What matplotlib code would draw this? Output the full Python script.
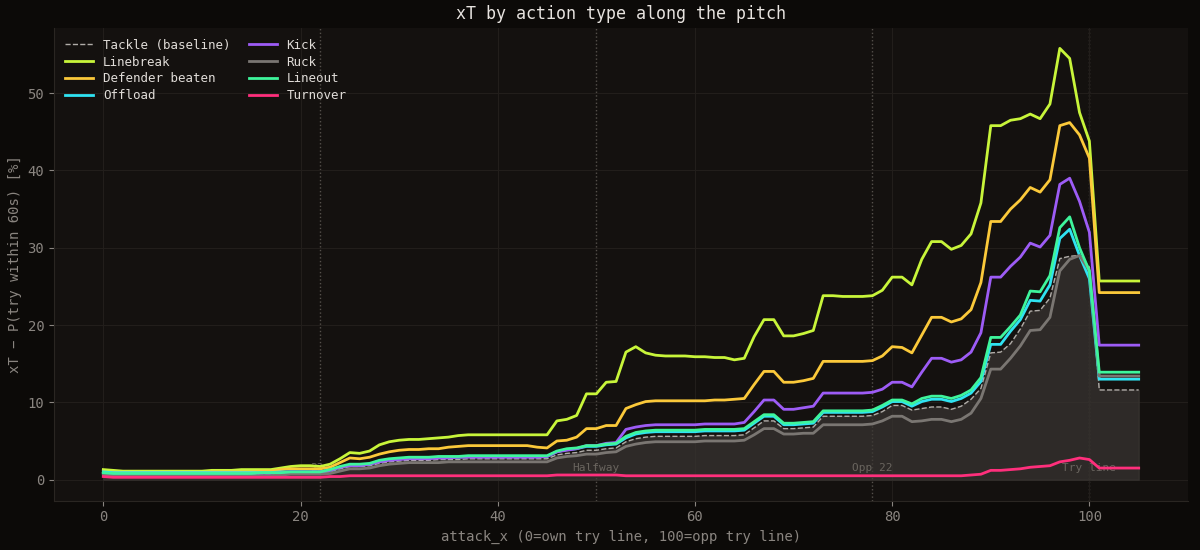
import numpy as np
import matplotlib
matplotlib.use("Agg")
import matplotlib.pyplot as plt

plt.rcParams.update({
    "font.family": "DejaVu Sans Mono",
    "axes.spines.top": False,
    "axes.spines.right": False,
})

attack_x = list(range(106))

linebreak = [1.3, 1.2, 1.1, 1.1, 1.1, 1.1, 1.1, 1.1, 1.1, 1.1,
             1.1, 1.2, 1.2, 1.2, 1.3, 1.3, 1.3, 1.3, 1.5, 1.7,
             1.8, 1.8, 1.7, 2.0, 2.7, 3.5, 3.4, 3.7, 4.5, 4.9,
             5.1, 5.2, 5.2, 5.3, 5.4, 5.5, 5.7, 5.8, 5.8, 5.8,
             5.8, 5.8, 5.8, 5.8, 5.8, 5.8, 7.6, 7.8, 8.3, 11.1,
             11.1, 12.6, 12.7, 16.5, 17.2, 16.4, 16.1, 16.0, 16.0, 16.0,
             15.9, 15.9, 15.8, 15.8, 15.5, 15.7, 18.5, 20.7, 20.7, 18.6,
             18.6, 18.9, 19.3, 23.8, 23.8, 23.7, 23.7, 23.7, 23.8, 24.5,
             26.2, 26.2, 25.2, 28.5, 30.8, 30.8, 29.8, 30.3, 31.8, 35.8,
             45.8, 45.8, 46.5, 46.7, 47.3, 46.7, 48.6, 55.8, 54.5, 47.5,
             43.8, 25.7, 25.7, 25.7, 25.7, 25.7]

defender_beaten = [1.0, 0.9, 0.9, 0.9, 0.9, 0.9, 0.9, 0.9, 0.9, 0.9,
                   0.9, 1.0, 1.0, 1.0, 1.0, 1.0, 1.1, 1.1, 1.3, 1.4,
                   1.4, 1.4, 1.4, 1.6, 2.2, 2.8, 2.7, 2.9, 3.3, 3.6,
                   3.8, 3.9, 3.9, 4.0, 4.0, 4.2, 4.3, 4.4, 4.4, 4.4,
                   4.4, 4.4, 4.4, 4.4, 4.2, 4.1, 5.0, 5.1, 5.5, 6.6,
                   6.6, 7.0, 7.0, 9.2, 9.7, 10.1, 10.2, 10.2, 10.2, 10.2,
                   10.2, 10.2, 10.3, 10.3, 10.4, 10.5, 12.3, 14.0, 14.0, 12.6,
                   12.6, 12.8, 13.1, 15.3, 15.3, 15.3, 15.3, 15.3, 15.4, 16.0,
                   17.2, 17.1, 16.4, 18.7, 21.0, 21.0, 20.4, 20.8, 22.0, 25.5,
                   33.4, 33.4, 35.0, 36.2, 37.8, 37.2, 38.8, 45.8, 46.2, 44.6,
                   41.6, 24.2, 24.2, 24.2, 24.2, 24.2]

kick = [0.8, 0.7, 0.7, 0.7, 0.7, 0.7, 0.7, 0.7, 0.7, 0.7,
        0.7, 0.7, 0.7, 0.8, 0.8, 0.8, 0.8, 0.8, 0.9, 1.0,
        1.0, 1.0, 1.0, 1.2, 1.6, 1.8, 1.8, 2.0, 2.3, 2.5,
        2.6, 2.7, 2.7, 2.7, 2.8, 2.8, 2.9, 2.9, 2.9, 2.9,
        2.9, 2.9, 2.9, 2.9, 2.9, 3.0, 3.6, 3.8, 4.0, 4.4,
        4.4, 4.7, 4.8, 6.5, 6.8, 7.0, 7.1, 7.1, 7.1, 7.1,
        7.1, 7.2, 7.2, 7.2, 7.2, 7.4, 8.8, 10.3, 10.3, 9.1,
        9.1, 9.3, 9.5, 11.2, 11.2, 11.2, 11.2, 11.2, 11.3, 11.7,
        12.6, 12.6, 12.0, 13.9, 15.7, 15.7, 15.2, 15.5, 16.5, 19.0,
        26.2, 26.2, 27.6, 28.8, 30.6, 30.1, 31.6, 38.2, 39.0, 36.0,
        32.0, 17.4, 17.4, 17.4, 17.4, 17.4]

lineout = [0.9, 0.8, 0.8, 0.8, 0.8, 0.8, 0.8, 0.8, 0.8, 0.8,
           0.8, 0.8, 0.8, 0.8, 0.8, 0.8, 0.9, 0.9, 0.9, 1.0,
           1.0, 1.0, 1.0, 1.3, 1.7, 2.0, 2.0, 2.1, 2.5, 2.7,
           2.8, 2.9, 2.9, 2.9, 3.0, 3.0, 3.0, 3.1, 3.1, 3.1,
           3.1, 3.1, 3.1, 3.1, 3.1, 3.1, 3.7, 4.0, 4.1, 4.4,
           4.4, 4.6, 4.7, 5.6, 6.1, 6.3, 6.4, 6.4, 6.4, 6.4,
           6.4, 6.5, 6.5, 6.5, 6.5, 6.6, 7.5, 8.4, 8.4, 7.3,
           7.3, 7.4, 7.5, 8.9, 8.9, 8.9, 8.9, 8.9, 9.0, 9.6,
           10.3, 10.3, 9.8, 10.5, 10.8, 10.8, 10.5, 10.9, 11.6, 13.2,
           18.4, 18.4, 19.8, 21.3, 24.4, 24.3, 26.4, 32.6, 34.0, 30.0,
           27.0, 13.9, 13.9, 13.9, 13.9, 13.9]

offload = [1.0, 0.9, 0.9, 0.9, 0.9, 0.9, 0.9, 0.9, 0.9, 0.9,
           0.9, 0.9, 0.9, 0.9, 0.9, 0.9, 0.9, 0.9, 1.0, 1.0,
           1.0, 1.0, 1.0, 1.2, 1.6, 1.9, 1.9, 2.0, 2.4, 2.6,
           2.7, 2.8, 2.8, 2.8, 2.9, 2.9, 2.9, 3.0, 3.0, 3.0,
           3.0, 3.0, 3.0, 3.0, 3.0, 3.0, 3.6, 3.9, 4.0, 4.3,
           4.3, 4.5, 4.6, 5.4, 5.9, 6.1, 6.2, 6.2, 6.2, 6.2,
           6.2, 6.3, 6.3, 6.3, 6.3, 6.4, 7.3, 8.2, 8.2, 7.1,
           7.1, 7.2, 7.3, 8.7, 8.7, 8.7, 8.7, 8.7, 8.8, 9.4,
           10.1, 10.1, 9.5, 10.1, 10.4, 10.4, 10.1, 10.5, 11.2, 12.7,
           17.5, 17.5, 19.2, 20.7, 23.2, 23.1, 25.2, 31.2, 32.4, 29.0,
           26.0, 13.0, 13.0, 13.0, 13.0, 13.0]

tackle = [0.8, 0.7, 0.7, 0.7, 0.7, 0.7, 0.7, 0.7, 0.7, 0.7,
          0.7, 0.7, 0.7, 0.7, 0.7, 0.7, 0.7, 0.7, 0.8, 0.9,
          0.9, 0.9, 0.9, 1.0, 1.4, 1.7, 1.7, 1.8, 2.1, 2.3,
          2.4, 2.5, 2.5, 2.5, 2.6, 2.6, 2.6, 2.7, 2.7, 2.7,
          2.7, 2.7, 2.7, 2.7, 2.7, 2.7, 3.2, 3.4, 3.5, 3.8,
          3.8, 4.0, 4.1, 4.9, 5.3, 5.5, 5.6, 5.6, 5.6, 5.6,
          5.6, 5.7, 5.7, 5.7, 5.7, 5.8, 6.7, 7.6, 7.6, 6.6,
          6.6, 6.7, 6.8, 8.2, 8.2, 8.2, 8.2, 8.2, 8.3, 8.8,
          9.6, 9.6, 9.0, 9.2, 9.4, 9.4, 9.1, 9.5, 10.4, 11.8,
          16.4, 16.5, 17.6, 19.5, 21.8, 21.9, 23.5, 28.6, 28.9, 29.0,
          27.5, 11.6, 11.6, 11.6, 11.6, 11.6]

ruck = [0.6, 0.5, 0.5, 0.5, 0.5, 0.5, 0.5, 0.5, 0.5, 0.5,
        0.5, 0.5, 0.5, 0.5, 0.5, 0.5, 0.5, 0.5, 0.6, 0.7,
        0.7, 0.7, 0.7, 0.8, 1.1, 1.4, 1.4, 1.5, 1.8, 2.0,
        2.1, 2.2, 2.2, 2.2, 2.2, 2.3, 2.3, 2.3, 2.3, 2.3,
        2.3, 2.3, 2.3, 2.3, 2.3, 2.3, 2.8, 3.0, 3.1, 3.3,
        3.3, 3.5, 3.6, 4.3, 4.6, 4.8, 4.9, 4.9, 4.9, 4.9,
        4.9, 5.0, 5.0, 5.0, 5.0, 5.1, 5.8, 6.6, 6.6, 5.9,
        5.9, 6.0, 6.0, 7.1, 7.1, 7.1, 7.1, 7.1, 7.2, 7.6,
        8.2, 8.2, 7.5, 7.6, 7.8, 7.8, 7.5, 7.8, 8.6, 10.5,
        14.3, 14.3, 15.7, 17.3, 19.3, 19.4, 21.0, 27.0, 28.5, 29.0,
        27.0, 13.4, 13.4, 13.4, 13.4, 13.4]

turnover = [0.4, 0.3, 0.3, 0.3, 0.3, 0.3, 0.3, 0.3, 0.3, 0.3,
            0.3, 0.3, 0.3, 0.3, 0.3, 0.3, 0.3, 0.3, 0.3, 0.3,
            0.3, 0.3, 0.3, 0.4, 0.4, 0.5, 0.5, 0.5, 0.5, 0.5,
            0.5, 0.5, 0.5, 0.5, 0.5, 0.5, 0.5, 0.5, 0.5, 0.5,
            0.5, 0.5, 0.5, 0.5, 0.5, 0.5, 0.6, 0.6, 0.6, 0.6,
            0.6, 0.6, 0.6, 0.5, 0.5, 0.5, 0.5, 0.5, 0.5, 0.5,
            0.5, 0.5, 0.5, 0.5, 0.5, 0.5, 0.5, 0.5, 0.5, 0.5,
            0.5, 0.5, 0.5, 0.5, 0.5, 0.5, 0.5, 0.5, 0.5, 0.5,
            0.5, 0.5, 0.5, 0.5, 0.5, 0.5, 0.5, 0.5, 0.6, 0.7,
            1.2, 1.2, 1.3, 1.4, 1.6, 1.7, 1.8, 2.3, 2.5, 2.8,
            2.6, 1.5, 1.5, 1.5, 1.5, 1.5]

markers_x = [22, 50, 78, 100]
markers_label = ["22m", "Halfway", "Opp 22", "Try line"]

BG = "#0c0a08"
AX_BG = "#14110f"
TXT = "#8a8580"

fig, ax = plt.subplots(figsize=(12, 5.5), dpi=100)
fig.patch.set_facecolor(BG)
ax.set_facecolor(AX_BG)

ax.fill_between(attack_x, tackle, color="#3a3633", alpha=0.7, zorder=1)
ax.plot(attack_x, tackle, "--", color="#b0aca8", linewidth=1.0,
        label="Tackle (baseline)", zorder=3)

series = [
    ("Linebreak", linebreak, "#c8f53a"),
    ("Defender beaten", defender_beaten, "#fbc93a"),
    ("Offload", offload, "#2fe3f2"),
    ("Kick", kick, "#9d5cf6"),
    ("Ruck", ruck, "#7a7672"),
    ("Lineout", lineout, "#3ef59c"),
    ("Turnover", turnover, "#ff2f7c"),
]
for name, vals, col in series:
    ax.plot(attack_x, vals, color=col, linewidth=2.0, label=name, zorder=4)

for mx, ml in zip(markers_x, markers_label):
    ax.axvline(mx, color="#55504b", linestyle=":", linewidth=1.0, zorder=0)
    ax.text(mx, 0.9, ml, color="#6a655f", fontsize=8, ha="center", va="bottom", zorder=2)

ax.set_xlim(-5, 110)
ax.set_ylim(-2.7, 58.5)
ax.grid(True, color="#221e1b", linewidth=0.8)
ax.set_axisbelow(True)
for s in ("left", "bottom"):
    ax.spines[s].set_color("#2a2622")
ax.tick_params(colors=TXT, labelsize=10)
ax.set_xlabel("attack_x (0=own try line, 100=opp try line)", color=TXT, fontsize=10)
ax.set_ylabel("xT − P(try within 60s) [%]", color=TXT, fontsize=10)
ax.set_title("xT by action type along the pitch", color="#e8e4e0", fontsize=12)

leg = ax.legend(loc="upper left", ncol=2, frameon=False, fontsize=9,
                handlelength=2.2, columnspacing=1.5, labelspacing=0.3)
for t in leg.get_texts():
    t.set_color("#e0dcd8")

plt.subplots_adjust(left=0.045, right=0.99, top=0.95, bottom=0.09)
plt.savefig("out.png", facecolor=BG)
